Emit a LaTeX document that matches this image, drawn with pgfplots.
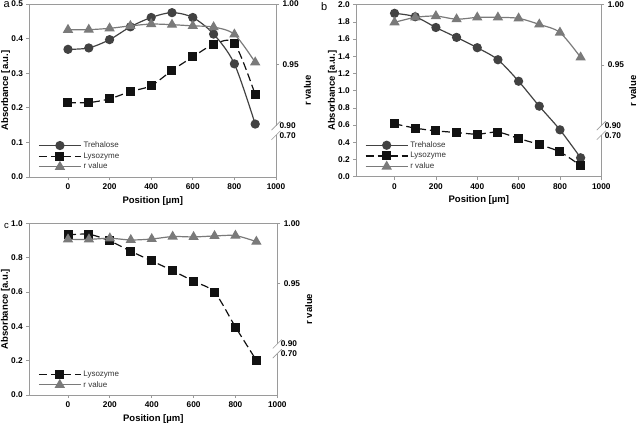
\documentclass[border=0pt]{standalone}
\usepackage{fontspec}
\setmainfont{Liberation Sans}
\usepackage{pgfplots}
\pgfplotsset{compat=1.18}

\definecolor{treh}{HTML}{424242}
\definecolor{lyso}{HTML}{121212}
\definecolor{rval}{HTML}{7A7A7A}
\definecolor{axisgray}{HTML}{9A9A9A}

\pgfplotsset{
  base/.style={
    scale only axis, xmin=-185, xmax=1000,
    axis line style={axisgray, line width=0.8pt},
    tick style={axisgray, line width=0.8pt},
    tick align=outside, major tick length=3pt,
    ticklabel style={font=\fontsize{8.3}{9}\selectfont\bfseries},
    /pgf/number format/assume math mode=true,
    label style={font=\fontsize{9.5}{11}\selectfont\bfseries},
  },
  leftax/.style={
    base, xtick={0,200,...,1000}, xtick pos=bottom, ytick pos=left,
    xlabel={Position [µm]}, ylabel={Absorbance [a.u.]}, ylabel shift=-5.5pt,
    yticklabel style={/pgf/number format/.cd, fixed, fixed zerofill, precision=1},
    xticklabel style={/pgf/number format/.cd, fixed, 1000 sep={}},
  },
  rightax/.style={
    base, axis y line*=right, axis x line=none,
    ymin=0.8577, ymax=1.0,
    ytick={0.95,1.0}, yticklabels={0.95,1.00},
    extra y ticks={0.892,0.90}, extra y tick labels={0.70,0.90},
    extra y tick style={major tick length=0pt},
    ylabel={r value}, ylabel shift=-4.5pt,
    legend style={draw=none, fill=none, at={(0.035,0.025)}, anchor=south west,
      font=\fontsize{8}{9}\selectfont, text=black!80, row sep=-0.5pt, inner sep=0pt},
    legend cell align=left,
    legend image code/.code={
      \draw[mark repeat=2,mark phase=2,##1] plot coordinates {(0pt,0pt) (21pt,0pt) (42pt,0pt)};
    },
  },
  trehs/.style={color=treh, line width=1.2pt, smooth, mark=*, mark size=4pt, mark options={solid, fill=treh}},
  lysos/.style={color=lyso, line width=1.2pt, dash pattern=on 8pt off 4pt, smooth, mark=square*, mark size=3.9pt, mark options={solid, fill=lyso}},
  rvals/.style={color=rval, line width=1.2pt, smooth, mark=triangle*, mark size=4.8pt, mark options={solid, fill=rval}},
}

\newcommand{\breakmarks}[2]{%
  \fill[white] ([xshift=-1.5pt]#2) rectangle ([xshift=1.5pt]#1);
  \draw[axisgray, line width=0.6pt] ([xshift=-4.5pt,yshift=-4.5pt]#1) -- ([xshift=4.5pt,yshift=4.5pt]#1);
  \draw[axisgray, line width=0.6pt] ([xshift=-4.5pt,yshift=-4.5pt]#2) -- ([xshift=4.5pt,yshift=4.5pt]#2);
}

\begin{document}
\begin{tikzpicture}
\useasboundingbox (0pt,0pt) rectangle (638pt,-424pt);

% ---------------- panel a ----------------
\begin{axis}[leftax, at={(29.5pt,-4pt)}, anchor=north west, width=246.5pt, height=173pt,
  ymin=0, ymax=0.5, ytick={0,0.1,...,0.5}]
\addplot[trehs] coordinates {(0,0.369) (100,0.373) (200,0.397) (300,0.434) (400,0.461) (500,0.475) (600,0.461) (700,0.413) (800,0.327) (900,0.153)};
\addplot[lysos] coordinates {(0,0.215) (100,0.215) (200,0.226) (300,0.247) (400,0.264) (500,0.308) (600,0.347) (700,0.383) (800,0.386) (900,0.238)};
\end{axis}
\begin{axis}[rightax, at={(29.5pt,-4pt)}, anchor=north west, width=246.5pt, height=173pt]
\addlegendimage{trehs}
\addlegendimage{lysos}
\addplot[rvals] coordinates {(0,0.9788) (100,0.9789) (200,0.9800) (300,0.9820) (400,0.9835) (500,0.9830) (600,0.9820) (700,0.9810) (800,0.9750) (900,0.9520)};
\legend{Trehalose, Lysozyme, r value}
\coordinate (a1) at (axis cs:1000,0.90);
\coordinate (a2) at (axis cs:1000,0.892);
\end{axis}
\breakmarks{a1}{a2}
\node[anchor=base west, font=\fontsize{11}{12}\selectfont] at (0pt,-7.5pt) {a};

% ---------------- panel b ----------------
\begin{axis}[leftax, at={(356.3pt,-4.7pt)}, anchor=north west, width=245pt, height=172pt,
  ymin=0, ymax=2.0, ytick={0,0.2,...,2.0}]
\addplot[trehs] coordinates {(0,1.900) (100,1.860) (200,1.735) (300,1.620) (400,1.500) (500,1.360) (600,1.110) (700,0.820) (800,0.545) (900,0.220)};
\addplot[lysos] coordinates {(0,0.615) (100,0.565) (200,0.533) (300,0.514) (400,0.494) (500,0.518) (600,0.444) (700,0.374) (800,0.288) (900,0.128)};
\end{axis}
\begin{axis}[rightax, at={(356.3pt,-4.7pt)}, anchor=north west, width=245pt, height=172pt]
\addlegendimage{trehs}
\addlegendimage{lysos}
\addplot[rvals] coordinates {(0,0.9854) (100,0.9895) (200,0.9906) (300,0.9880) (400,0.9895) (500,0.9895) (600,0.9887) (700,0.9837) (800,0.9770) (900,0.9564)};
\legend{Trehalose, Lysozyme, r value}
\coordinate (b1) at (axis cs:1000,0.90);
\coordinate (b2) at (axis cs:1000,0.892);
\end{axis}
\breakmarks{b1}{b2}
\node[anchor=base west, font=\fontsize{11}{12}\selectfont] at (317.5pt,-10.5pt) {b};

% ---------------- panel c ----------------
\begin{axis}[leftax, at={(29.3pt,-223.3pt)}, anchor=north west, width=248pt, height=171.7pt,
  ymin=0, ymax=1.0, ytick={0,0.2,...,1.0}]
\addplot[lysos] coordinates {(0,0.932) (100,0.936) (200,0.897) (300,0.837) (400,0.781) (500,0.724) (600,0.662) (700,0.598) (800,0.396) (900,0.202)};
\end{axis}
\begin{axis}[rightax, at={(29.3pt,-223.3pt)}, anchor=north west, width=248pt, height=171.7pt]
\addlegendimage{lysos}
\addplot[rvals] coordinates {(0,0.9867) (100,0.9867) (200,0.9876) (300,0.9862) (400,0.9870) (500,0.9890) (600,0.9887) (700,0.9895) (800,0.9898) (900,0.9848)};
\legend{Lysozyme, r value}
\coordinate (c1) at (axis cs:1000,0.90);
\coordinate (c2) at (axis cs:1000,0.892);
\end{axis}
\breakmarks{c1}{c2}
\node[anchor=base west, font=\fontsize{9.5}{11}\selectfont] at (0.5pt,-228.8pt) {c};
\end{tikzpicture}
\end{document}
